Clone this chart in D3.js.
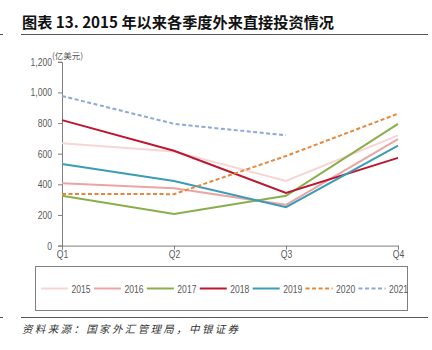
<!DOCTYPE html>
<html>
<head>
<meta charset="utf-8">
<script src="https://cdn.jsdelivr.net/npm/d3@7"></script>
<style>
  body { margin: 0; background: #fff; }
  svg { display: block; }
</style>
</head>
<body>
<svg id="chart" width="432" height="350"></svg>
<script>
// data
const quarters = ["Q1", "Q2", "Q3", "Q4"];
const years = ["2015", "2016", "2017", "2018", "2019", "2020", "2021"];
const v2015 = [668, 615, 422, 720];
const v2016 = [407, 374, 266, 695];
const v2017 = [325, 207, 325, 795];
const v2018 = [819, 619, 344, 573];
const v2019 = [533, 422, 251, 652];
const v2020 = [337, 336, 585, 861];
const v2021 = [977, 795, 720];
const yTicks = [0, 200, 400, 600, 800, 1000, 1200];

const seriesValues = [v2015, v2016, v2017, v2018, v2019, v2020, v2021];
const colors = ["#f7d5d5", "#eaa5a5", "#8aae4b", "#c01530", "#3a9cb6", "#e8873b", "#8ea8d9"];
const dashed = [false, false, false, false, false, true, true];

const svg = d3.select("#chart");
const axisColor = "#7f7f7f";
const labelColor = "#595959";
const narrow = "'Liberation Sans Narrow', 'Arial Narrow', 'Liberation Sans', Arial, sans-serif";

// squeeze text horizontally, the original uses a narrow face
function squeeze(sel, k) {
  sel.each(function() {
    const w = this.getComputedTextLength();
    d3.select(this).attr("textLength", w * k).attr("lengthAdjust", "spacingAndGlyphs");
  });
}

// title + rules
svg.append("text")
  .attr("x", 22).attr("y", 27.5)
  .attr("font-family", "'Noto Sans CJK SC', 'Liberation Sans', sans-serif")
  .attr("font-weight", "bold")
  .attr("font-size", 15.2)
  .attr("fill", "#111")
  .text("图表 13. 2015 年以来各季度外来直接投资情况");

svg.append("line").attr("x1", 21).attr("x2", 428).attr("y1", 34.5).attr("y2", 34.5)
  .attr("stroke", "#555").attr("stroke-width", 1.2);
svg.append("line").attr("x1", 0).attr("x2", 3).attr("y1", 34.5).attr("y2", 34.5)
  .attr("stroke", "#555").attr("stroke-width", 1);

// scales
const x = d3.scalePoint().domain(quarters).range([62, 398]);
const y = d3.scaleLinear().domain([0, 1200]).range([245.6, 61.8]);

// axes
const yAxis = svg.append("g")
  .attr("transform", "translate(62,0)")
  .call(d3.axisLeft(y).tickValues(yTicks).tickSize(4).tickPadding(6).tickFormat(d3.format(",")));
const xAxis = svg.append("g")
  .attr("transform", "translate(0,245.6)")
  .call(d3.axisBottom(x).tickSize(4).tickPadding(1));

[yAxis, xAxis].forEach(ax => {
  ax.select(".domain").attr("stroke", axisColor);
  ax.selectAll(".tick line").attr("stroke", axisColor);
  ax.selectAll(".tick text")
    .attr("fill", labelColor)
    .attr("font-family", narrow)
    .attr("font-size", 11)
    .call(squeeze, 0.78);
});

svg.append("text")
  .attr("x", 52).attr("y", 59)
  .attr("font-family", "'Noto Sans CJK SC', sans-serif")
  .attr("font-size", 8.5)
  .attr("fill", labelColor)
  .text("(亿美元)");

// lines
const line = d3.line()
  .x((d, i) => x(quarters[i]))
  .y(d => y(d));

svg.append("g").selectAll("path")
  .data(seriesValues)
  .join("path")
  .attr("d", d => line(d))
  .attr("fill", "none")
  .attr("stroke", (d, i) => colors[i])
  .attr("stroke-width", 2)
  .attr("stroke-dasharray", (d, i) => dashed[i] ? "4,2.5" : null);

// legend
svg.append("rect")
  .attr("x", 35.5).attr("y", 266.5)
  .attr("width", 372).attr("height", 44)
  .attr("fill", "none")
  .attr("stroke", "#808080")
  .attr("stroke-width", 1);

const legendX = d3.scalePoint().domain(years).range([41, 358.5]);
const item = svg.append("g").selectAll("g")
  .data(years)
  .join("g")
  .attr("transform", d => `translate(${legendX(d)},288.5)`);

item.append("line")
  .attr("x1", 0).attr("x2", 27)
  .attr("stroke", (d, i) => colors[i])
  .attr("stroke-width", 2)
  .attr("stroke-dasharray", (d, i) => dashed[i] ? "4,2.5" : null);

item.append("text")
  .attr("x", 30.5).attr("y", 4)
  .attr("font-family", narrow)
  .attr("font-size", 11)
  .attr("fill", labelColor)
  .text(d => d)
  .call(squeeze, 0.78);

// bottom rule + source
svg.append("line").attr("x1", 21).attr("x2", 428).attr("y1", 317.5).attr("y2", 317.5)
  .attr("stroke", "#555").attr("stroke-width", 1.2);
svg.append("line").attr("x1", 0).attr("x2", 3).attr("y1", 317.5).attr("y2", 317.5)
  .attr("stroke", "#555").attr("stroke-width", 1);

svg.append("text")
  .attr("x", 22).attr("y", 333)
  .attr("font-family", "'Noto Sans CJK SC', sans-serif")
  .attr("font-style", "italic")
  .attr("font-size", 10.5)
  .attr("fill", "#333")
  .style("letter-spacing", "2.35px")
  .text("资料来源：国家外汇管理局，中银证券");
</script>
</body>
</html>
